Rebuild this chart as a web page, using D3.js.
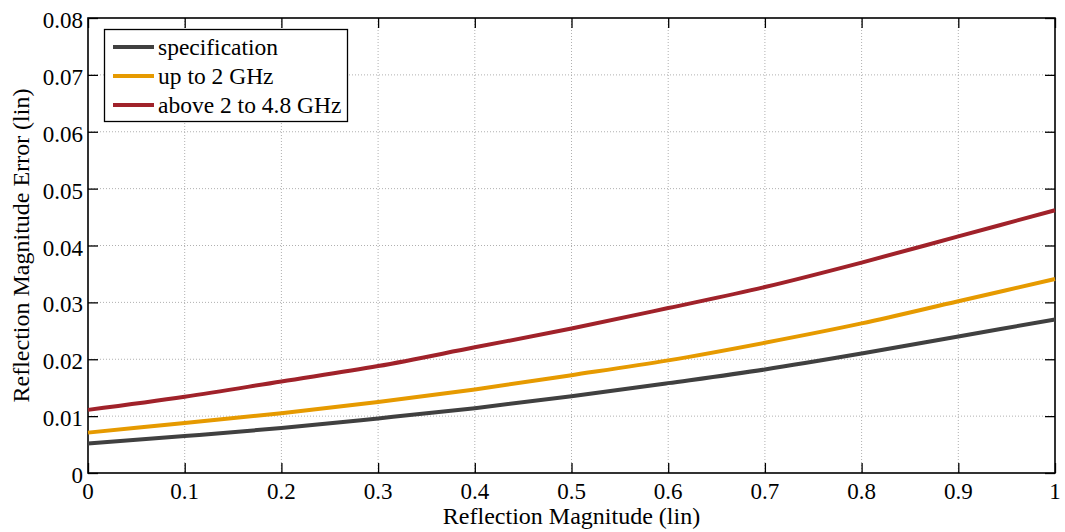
<!DOCTYPE html>
<html>
<head>
<meta charset="utf-8">
<script src="https://cdn.jsdelivr.net/npm/d3@7/dist/d3.min.js"></script>
<style>
  html, body { margin: 0; padding: 0; background: #fff; }
</style>
</head>
<body>
<svg id="chart" width="1065" height="532"></svg>
<script>
// Reflection magnitude samples (x) and the magnitude error for each case
const magnitude = [0, 0.1, 0.2, 0.3, 0.4, 0.5, 0.6, 0.7, 0.8, 0.9, 1.0];
const specification = [0.0052, 0.0065, 0.0079, 0.0096, 0.0114, 0.0135, 0.0158, 0.0182, 0.0210, 0.0240, 0.0270];
const upTo2GHz = [0.0071, 0.0088, 0.0105, 0.0125, 0.0147, 0.0172, 0.0198, 0.0229, 0.0263, 0.0302, 0.0341];
const above2To48GHz = [0.0111, 0.0134, 0.0161, 0.0188, 0.0221, 0.0254, 0.0290, 0.0327, 0.0370, 0.0416, 0.0462];

const seriesNames = ["specification", "up to 2 GHz", "above 2 to 4.8 GHz"];
const seriesColors = ["#404040", "#e69a00", "#a0222a"];
const seriesValues = [specification, upTo2GHz, above2To48GHz];

const xTicks = [0, 0.1, 0.2, 0.3, 0.4, 0.5, 0.6, 0.7, 0.8, 0.9, 1];
const yTicks = [0, 0.01, 0.02, 0.03, 0.04, 0.05, 0.06, 0.07, 0.08];
const xTickLabels = ["0", "0.1", "0.2", "0.3", "0.4", "0.5", "0.6", "0.7", "0.8", "0.9", "1"];
const yTickLabels = ["0", "0.01", "0.02", "0.03", "0.04", "0.05", "0.06", "0.07", "0.08"];

const svg = d3.select("#chart");
const plotLeft = 88, plotRight = 1055, plotTop = 18, plotBottom = 473;
const serif = "Liberation Serif";

const x = d3.scaleLinear().domain([0, 1]).range([plotLeft, plotRight]);
const y = d3.scaleLinear().domain([0, 0.08]).range([plotBottom, plotTop]);

// Dotted grid
const grid = svg.append("g");
grid.selectAll("line.gx").data(xTicks.slice(1, -1)).enter().append("line")
  .attr("x1", d => x(d)).attr("x2", d => x(d))
  .attr("y1", plotTop).attr("y2", plotBottom)
  .attr("stroke", "#b0b0b0").attr("stroke-width", 1).attr("stroke-dasharray", "1,2");
grid.selectAll("line.gy").data(yTicks.slice(1, -1)).enter().append("line")
  .attr("x1", plotLeft).attr("x2", plotRight)
  .attr("y1", d => y(d)).attr("y2", d => y(d))
  .attr("stroke", "#b0b0b0").attr("stroke-width", 1).attr("stroke-dasharray", "1,2");

// Inward tick marks on all four sides (d3 axes, labels drawn separately)
const tickLen = 10;
const axes = [
  svg.append("g").attr("transform", `translate(0,${plotBottom})`)
    .call(d3.axisBottom(x).tickValues(xTicks).tickFormat("").tickSizeInner(-tickLen).tickSizeOuter(0)),
  svg.append("g").attr("transform", `translate(0,${plotTop})`)
    .call(d3.axisTop(x).tickValues(xTicks).tickFormat("").tickSizeInner(-tickLen).tickSizeOuter(0)),
  svg.append("g").attr("transform", `translate(${plotLeft},0)`)
    .call(d3.axisLeft(y).tickValues(yTicks).tickFormat("").tickSizeInner(-tickLen).tickSizeOuter(0)),
  svg.append("g").attr("transform", `translate(${plotRight},0)`)
    .call(d3.axisRight(y).tickValues(yTicks).tickFormat("").tickSizeInner(-tickLen).tickSizeOuter(0))
];
axes.forEach(g => {
  g.select(".domain").remove();
  g.selectAll(".tick line").attr("stroke", "#000").attr("stroke-width", 1.3);
  g.selectAll("text").remove();
});

// Tick labels
svg.append("g").selectAll("text").data(xTicks).enter().append("text")
  .attr("x", d => x(d)).attr("y", plotBottom + 26)
  .attr("text-anchor", "middle")
  .attr("font-family", serif).attr("font-size", 23).attr("fill", "#000")
  .text((d, i) => xTickLabels[i]);
svg.append("g").selectAll("text").data(yTicks).enter().append("text")
  .attr("x", plotLeft - 5).attr("y", d => y(d) + 10)
  .attr("text-anchor", "end")
  .attr("font-family", serif).attr("font-size", 23).attr("fill", "#000")
  .text((d, i) => yTickLabels[i]);

// Frame
svg.append("rect").attr("x", plotLeft).attr("y", plotTop)
  .attr("width", plotRight - plotLeft).attr("height", plotBottom - plotTop)
  .attr("fill", "none").attr("stroke", "#000").attr("stroke-width", 1.6);

// Series lines
const line = d3.line()
  .x((d, i) => x(magnitude[i]))
  .y(d => y(d))
  .curve(d3.curveMonotoneX);

svg.append("g")
  .selectAll("path").data(seriesValues).enter().append("path")
  .attr("d", d => line(d))
  .attr("fill", "none")
  .attr("stroke", (d, i) => seriesColors[i])
  .attr("stroke-width", 4);

// Axis titles
svg.append("text")
  .attr("x", (plotLeft + plotRight) / 2).attr("y", 524)
  .attr("text-anchor", "middle")
  .attr("font-family", serif).attr("font-size", 24).attr("fill", "#000")
  .text("Reflection Magnitude (lin)");
svg.append("text")
  .attr("transform", `translate(29,${(plotTop + plotBottom) / 2}) rotate(-90)`)
  .attr("text-anchor", "middle")
  .attr("font-family", serif).attr("font-size", 24).attr("fill", "#000")
  .text("Reflection Magnitude Error (lin)");

// Legend
const legend = svg.append("g");
legend.append("rect")
  .attr("x", 104.5).attr("y", 29.5).attr("width", 243).attr("height", 92)
  .attr("fill", "#fff").attr("stroke", "#000").attr("stroke-width", 1.3);
seriesNames.forEach((name, i) => {
  const cy = 47 + i * 29;
  legend.append("line")
    .attr("x1", 113).attr("x2", 154).attr("y1", cy).attr("y2", cy)
    .attr("stroke", seriesColors[i]).attr("stroke-width", 4);
  legend.append("text")
    .attr("x", 158).attr("y", cy + 8)
    .attr("font-family", serif).attr("font-size", 23.5).attr("fill", "#000")
    .text(name);
});
</script>
</body>
</html>
